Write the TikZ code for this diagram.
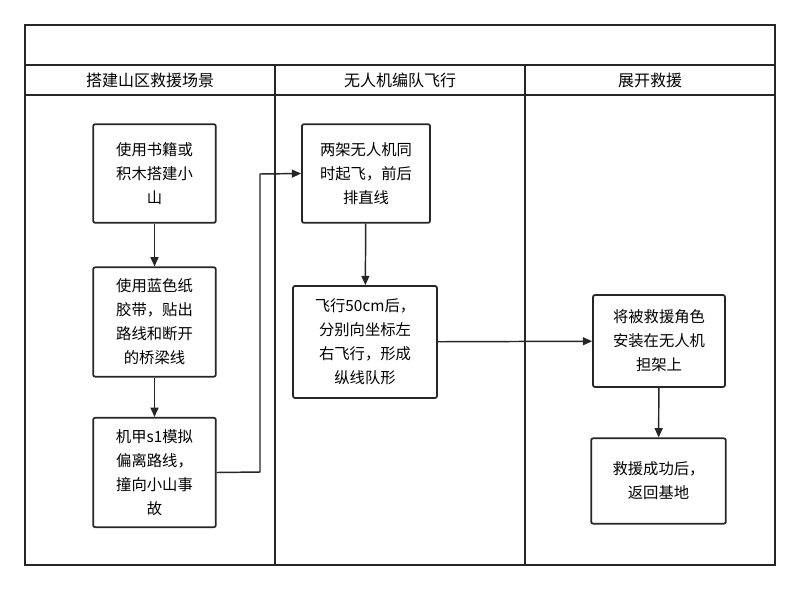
\documentclass[tikz,border=0pt]{standalone}
\usepackage{fontspec}
\setmainfont{Noto Sans CJK SC}
\usetikzlibrary{arrows.meta}
\begin{document}
\begin{tikzpicture}[x=0.75pt,y=-0.75pt,
  box/.style={draw=black!85,line width=1.3pt,rounded corners=1.5pt,align=center,font=\fontsize{11.5}{18}\selectfont,inner sep=0pt},
  arr/.style={-{Triangle[length=7pt,width=6pt]},line width=1.1pt,black!85},
  lane/.style={draw=black!85,line width=1.1pt}]
\useasboundingbox (0,0) rectangle (800,590);
\fill[white] (0,0) rectangle (800,590);
\draw[lane] (25,25) rectangle (775,565);
\draw[lane] (25,65) -- (775,65);
\draw[lane] (25,95) -- (775,95);
\draw[lane] (275,65) -- (275,565);
\draw[lane] (525,65) -- (525,565);
\node[font=\fontsize{12}{14}\selectfont] (t1) at (150,80) {搭建山区救援场景};
\node[font=\fontsize{12}{14}\selectfont] (t2) at (400,80) {无人机编队飞行};
\node[font=\fontsize{12}{14}\selectfont] (t3) at (650,80) {展开救援};
\node[box,minimum width=92pt,minimum height=74pt] (A) at (154.5,173.5) {使用书籍或\\积木搭建小\\山};
\node[box,minimum width=92pt,minimum height=82pt] (B) at (154.5,322) {使用蓝色纸\\胶带，贴出\\路线和断开\\的桥梁线};
\node[box,minimum width=92pt,minimum height=82pt] (C) at (154.5,472.5) {机甲s1模拟\\偏离路线，\\撞向小山事\\故};
\node[box,minimum width=96pt,minimum height=74pt] (D) at (366,173.5) {两架无人机同\\时起飞，前后\\排直线};
\node[box,minimum width=108pt,minimum height=84pt] (E) at (365,342) {飞行50cm后，\\分别向坐标左\\右飞行，形成\\纵线队形};
\node[box,minimum width=99pt,minimum height=69pt] (F) at (659,341) {将被救援角色\\安装在无人机\\担架上};
\node[box,minimum width=101pt,minimum height=64pt] (G) at (658.5,481) {救援成功后，\\返回基地};
\coordinate (c1) at (260,472);
\coordinate (c2) at (260,174);
\draw[arr] (A) -- (B);
\draw[arr] (B) -- (C);
\draw[arr] (C.east) -- (c1) -- (c2) -- (D.west);
\draw[arr] (D) -- (E);
\draw[arr] (E) -- (F);
\draw[arr] (F) -- (G);
\end{tikzpicture}
\end{document}
